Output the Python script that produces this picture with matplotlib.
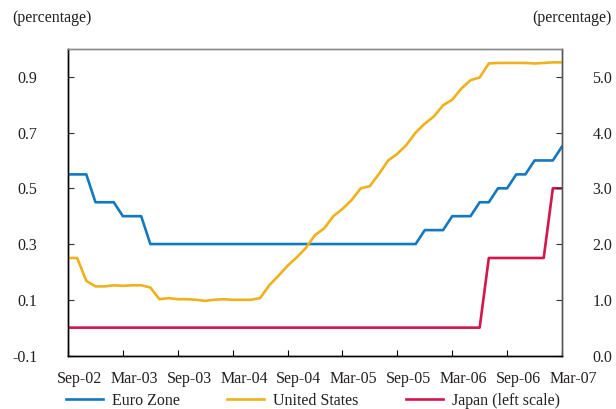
import matplotlib
matplotlib.use("Agg")
import matplotlib.pyplot as plt
from matplotlib.transforms import ScaledTranslation
import numpy as np

plt.rcParams['font.family'] = ['Liberation Serif', 'DejaVu Serif']
plt.rcParams['axes.unicode_minus'] = False

# Monthly data, Sep-2002 .. Mar-2007
tick_labels = ["Sep-02", "Mar-03", "Sep-03", "Mar-04", "Sep-04",
               "Mar-05", "Sep-05", "Mar-06", "Sep-06", "Mar-07"]

euro_zone = [3.25, 3.25, 3.25,
             2.75, 2.75, 2.75,
             2.50, 2.50, 2.50] + [2.00] * 30 + \
            [2.25, 2.25, 2.25,
             2.50, 2.50, 2.50,
             2.75, 2.75,
             3.00, 3.00,
             3.25, 3.25,
             3.50, 3.50, 3.50,
             3.75]

united_states = [1.75, 1.75, 1.34, 1.24,
                 1.24, 1.26, 1.25, 1.26, 1.26, 1.22, 1.01, 1.03, 1.01, 1.01, 1.00, 0.98,
                 1.00, 1.01, 1.00, 1.00, 1.00, 1.03, 1.26, 1.43, 1.61, 1.76, 1.93, 2.16,
                 2.28, 2.50, 2.63, 2.79, 3.00, 3.04, 3.26, 3.50, 3.62, 3.78, 4.00, 4.16,
                 4.29, 4.49, 4.59, 4.79, 4.94, 4.99, 5.24, 5.25, 5.25, 5.25, 5.25, 5.24,
                 5.25, 5.26, 5.26]

japan = [0.0] * 46 + [0.25] * 7 + [0.5] * 2

left_ticks = [-0.1, 0.1, 0.3, 0.5, 0.7, 0.9]
right_ticks = [0.0, 1.0, 2.0, 3.0, 4.0, 5.0]

x = np.arange(len(euro_zone))

C_EURO = "#1279c0"
C_US = "#efb11c"
C_JP = "#d5164c"
TXT = "#231f20"

fig = plt.figure(figsize=(6.16, 4.09), dpi=100)
ax = fig.add_axes([68/616, 1-355.5/409, (562-68)/616, (355.5-49)/409])
ax2 = ax.twinx()

lw = 1.9
lj, = ax.plot(x, japan, color=C_JP, lw=lw)
le, = ax2.plot(x, euro_zone, color=C_EURO, lw=lw)
lu, = ax2.plot(x, united_states, color=C_US, lw=lw)

major = np.arange(0, 55, 6)
ax.set_xticks(major)
ax.set_xticklabels(tick_labels)
ax.set_xlim(0, 54)
ax.set_ylim(-0.1, 1.0)
ax2.set_ylim(0.0, 5.5)

ax.set_yticks(left_ticks)
ax.set_yticklabels([f"{v:.1f}" for v in left_ticks])
ax2.set_yticks(right_ticks)
ax2.set_yticklabels([f"{v:.1f}" for v in right_ticks])
ax.set_ylim(-0.1, 1.0)
ax2.set_ylim(0.0, 5.5)

fs = 11.5
ax.tick_params(axis='x', direction='in', length=4, width=0.8, color='black',
               pad=11, labelsize=fs, labelcolor=TXT)
ax.tick_params(axis='y', direction='in', length=4, width=0.8, pad=22, labelsize=fs, labelcolor=TXT, color='#333333')
ax2.tick_params(axis='y', direction='in', length=4, width=0.8, pad=22, labelsize=fs, labelcolor=TXT, color='#333333')

shift = ScaledTranslation(11.4/100, 0, fig.dpi_scale_trans)
for lab in ax.get_xticklabels():
    lab.set_transform(lab.get_transform() + shift)

for a in (ax, ax2):
    a.spines['left'].set_color('black')
    a.spines['bottom'].set_color('black')
    a.spines['top'].set_color('#8a8a8a')
    a.spines['right'].set_color('#555555')
    for s in a.spines.values():
        s.set_linewidth(1.0)

fig.text(12/616, 1-18/409, "(percentage)", fontsize=fs, color=TXT, ha='left', va='center')
fig.text(612/616, 1-18/409, "(percentage)", fontsize=fs, color=TXT, ha='right', va='center')

fig.legend([le, lu, lj], ["Euro Zone", "United States", "Japan (left scale)"],
           loc='center left', bbox_to_anchor=(66/616, 1-401/409), ncol=3,
           frameon=False, fontsize=fs, handlelength=2.3, handletextpad=0.55,
           columnspacing=3.0, borderpad=0, borderaxespad=0,
           labelcolor=TXT)

fig.savefig("out.png", dpi=100)
